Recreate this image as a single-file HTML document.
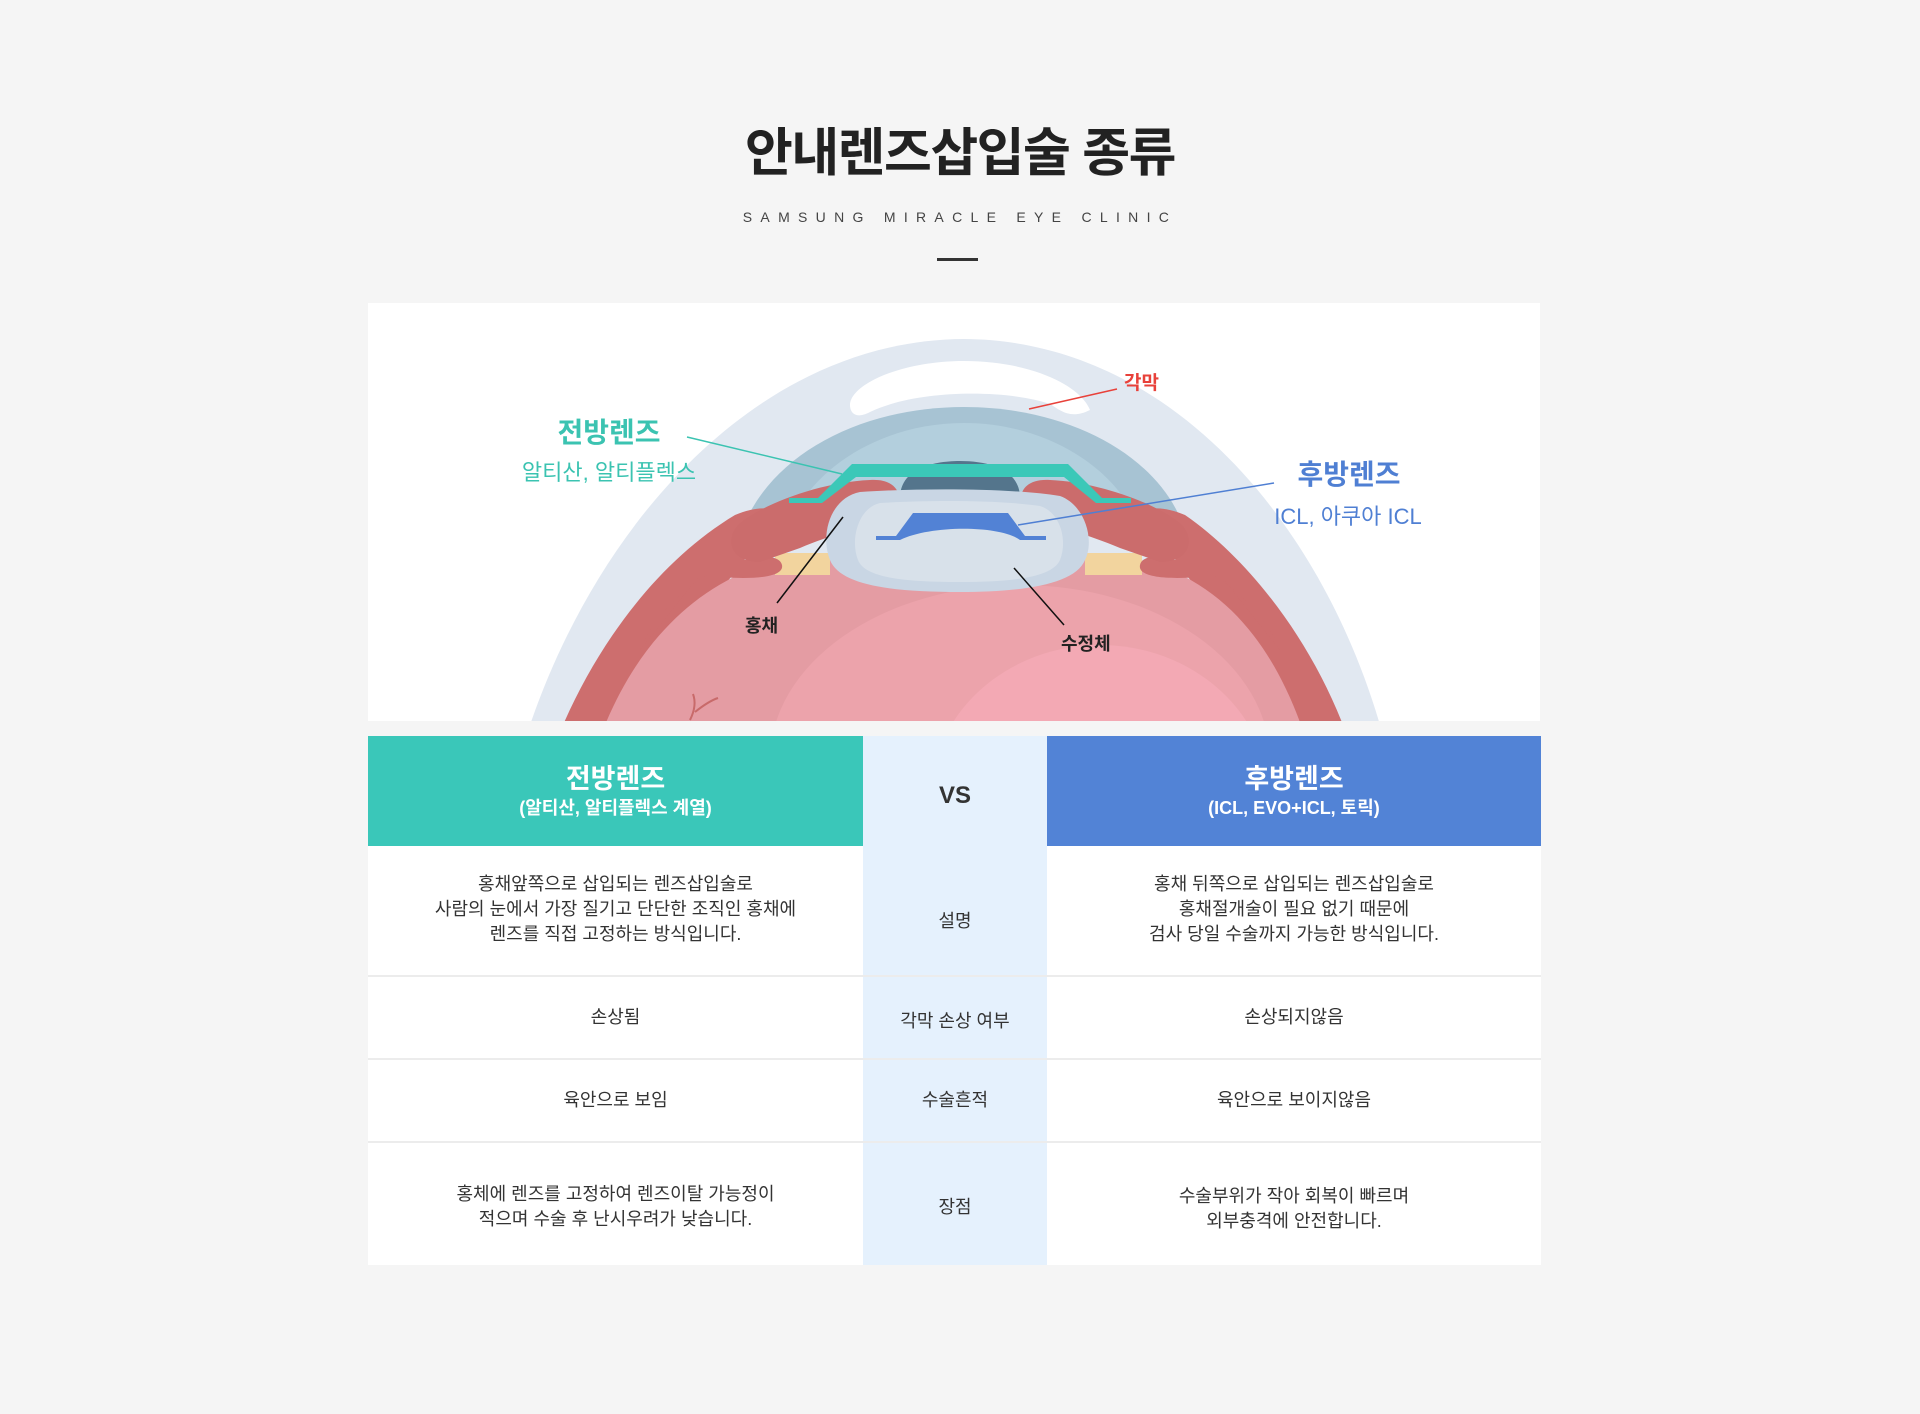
<!DOCTYPE html>
<html><head><meta charset="utf-8"><style>
*{margin:0;padding:0;box-sizing:border-box}
body{width:1920px;height:1414px;background:#f5f5f5;font-family:"Liberation Sans","Noto Sans CJK KR",sans-serif;position:relative;overflow:hidden;color:#333}
.abs{position:absolute}
h1{position:absolute;left:0;width:1920px;top:119px;text-align:center;font-size:52px;font-weight:bold;color:#222;letter-spacing:-1.5px;line-height:70px}
.sub{position:absolute;left:0;width:1920px;top:208px;text-align:center;font-size:14px;letter-spacing:8.3px;color:#444;line-height:18px}
.dash{position:absolute;left:937px;top:258px;width:41px;height:3px;background:#333}
.panel{position:absolute;left:368px;top:303px;width:1172px;height:418px;background:#fff;overflow:hidden}
table{position:absolute;left:368px;top:736px;width:1173px;border-collapse:collapse;table-layout:fixed}
td{text-align:center;vertical-align:middle;font-size:18px;line-height:25px;color:#333;background:#fff;border-bottom:2px solid #ececec}
td.m{background:#e5f1fd}
tr.h td{height:110px;color:#fff;border-bottom:none}
.t1{font-size:27px;font-weight:bold;line-height:34px}
.t2{font-size:18px;font-weight:bold;line-height:24px}
</style></head><body>
<h1>안내렌즈삽입술 종류</h1>
<div class="sub">SAMSUNG MIRACLE EYE CLINIC</div>
<div class="dash"></div>
<div class="panel">
<svg width="1172" height="418" viewBox="368 303 1172 418" xmlns="http://www.w3.org/2000/svg">
<!-- sclera -->
<path d="M530 725 C600 520 760 340 964 339 C1168 340 1320 520 1380 725 Z" fill="#e1e8f1"/>
<path d="M850 405 C850 385 900 361 964 361 C1030 361 1080 385 1090 410 C1070 420 1060 410 1050 404 C1010 390 920 388 870 412 C855 420 850 412 850 405 Z" fill="#fff"/>
<!-- cornea -->
<path d="M742 530 C770 455 860 407 964 407 C1068 407 1160 455 1185 530 Z" fill="#a7c3d3"/>
<path d="M790 525 C810 470 880 423 964 423 C1048 423 1118 470 1138 525 Z" fill="#b3cfdd"/>
<!-- red outer band -->
<path d="M563 725 C600 640 660 560 735 515 C760 505 780 505 778 525 C760 540 730 545 745 560 L610 725 Z" fill="#cd6e6e"/>
<path d="M1343 725 C1310 640 1250 560 1185 515 C1160 505 1140 505 1142 525 C1160 540 1190 545 1175 560 L1301 725 Z" fill="#cd6e6e"/>
<!-- inner pinks -->
<path d="M605 725 C640 640 700 580 780 560 L1140 560 C1220 580 1270 640 1301 725 Z" fill="#e49ca3"/>
<ellipse cx="1020" cy="760" rx="250" ry="175" fill="#eca3ab"/>
<ellipse cx="1100" cy="800" rx="170" ry="155" fill="#f3a9b4"/>
<!-- yellow -->
<path d="M775 553 L830 553 L830 575 L775 575 Z" fill="#f2d49e"/>
<path d="M1085 553 L1142 553 L1142 575 L1085 575 Z" fill="#f2d49e"/>
<!-- ciliary knobs -->
<path d="M745 560 C720 560 660 600 640 650 L700 575 C740 580 785 580 782 565 C780 555 760 555 745 560Z" fill="#cd6e6e"/>
<path d="M1175 560 C1200 560 1260 600 1280 650 L1220 575 C1180 580 1137 580 1140 565 C1142 555 1160 555 1175 560Z" fill="#cd6e6e"/>
<!-- iris -->
<path d="M738 525 C760 505 820 482 870 480 C900 478 905 500 892 512 C870 525 830 535 800 548 L760 562 C730 562 725 540 738 525Z" fill="#cb6c6c"/>
<path d="M1182 525 C1160 505 1100 482 1050 480 C1020 478 1015 500 1028 512 C1050 525 1090 535 1120 548 L1160 562 C1190 562 1195 540 1182 525Z" fill="#cb6c6c"/>
<!-- pupil -->
<path d="M900 498 C900 470 930 461 960 461 C990 461 1020 470 1020 498 Z" fill="#54758c"/>
<!-- crystalline lens -->
<path d="M860 492 C920 488 1010 488 1060 496 C1085 505 1095 540 1085 560 C1075 585 1020 592 960 592 C890 592 840 585 830 560 C820 535 830 498 860 492Z" fill="#c9d6e4"/>
<path d="M880 503 C930 500 1000 500 1040 506 C1060 512 1068 540 1060 560 C1052 578 1010 582 960 582 C905 582 865 578 858 560 C850 540 858 508 880 503Z" fill="#d8e1ea"/>
<!-- ICL -->
<path d="M913 513 L1008 513 L1025 536 L1046 536 L1046 540 L1020 540 C1000 525 930 525 900 540 L876 540 L876 536 L896 536 Z" fill="#5282d5"/>
<!-- ACL green -->
<path d="M852 464 L1068 464 L1102 498 L1131 498 L1131 503 L1096 503 L1064 477 L856 477 L822 503 L789 503 L789 498 L818 498 Z" fill="#3bc8b8"/>
<!-- vein -->
<path d="M690 720 C695 710 696 702 693 694 M695 712 C705 704 712 700 718 698" stroke="#c86a6a" stroke-width="2" fill="none"/>
<!-- leader lines -->
<line x1="1029" y1="409" x2="1117" y2="389" stroke="#e8413a" stroke-width="1.5"/>
<line x1="687" y1="437" x2="842" y2="474" stroke="#3bc3b1" stroke-width="1.5"/>
<line x1="1274" y1="483" x2="1018" y2="525" stroke="#4f7fd3" stroke-width="1.5"/>
<line x1="777" y1="603" x2="843" y2="517" stroke="#111" stroke-width="1.5"/>
<line x1="1064" y1="625" x2="1014" y2="568" stroke="#111" stroke-width="1.5"/>
</svg>
</div>
<div class="abs" style="left:1124px;top:368px;font-size:19px;font-weight:bold;color:#e8413a">각막</div>
<div class="abs" style="left:459px;top:411px;width:300px;text-align:center;font-size:28px;font-weight:bold;color:#3bc3b1">전방렌즈</div>
<div class="abs" style="left:459px;top:455px;width:300px;text-align:center;font-size:22px;color:#3bc3b1">알티산, 알티플렉스</div>
<div class="abs" style="left:1199px;top:453px;width:300px;text-align:center;font-size:28px;font-weight:bold;color:#4f7fd3">후방렌즈</div>
<div class="abs" style="left:1198px;top:499px;width:300px;text-align:center;font-size:22px;color:#4f7fd3">ICL, 아쿠아 ICL</div>
<div class="abs" style="left:745px;top:612px;font-size:18px;font-weight:bold;color:#222">홍채</div>
<div class="abs" style="left:1061px;top:630px;font-size:18px;font-weight:bold;color:#222">수정체</div>
<table>
<colgroup><col style="width:495px"><col style="width:184px"><col style="width:494px"></colgroup>
<tr class="h"><td style="background:#3ac7b9"><div class="t1">전방렌즈</div><div class="t2">(알티산, 알티플렉스 계열)</div></td><td class="m" style="color:#333;font-size:24px;font-weight:bold;padding-top:8px">VS</td><td style="background:#5283d6"><div class="t1">후방렌즈</div><div class="t2">(ICL, EVO+ICL, 토릭)</div></td></tr>
<tr><td style="height:130px;padding-bottom:2px">홍채앞쪽으로 삽입되는 렌즈삽입술로<br>사람의 눈에서 가장 질기고 단단한 조직인 홍채에<br>렌즈를 직접 고정하는 방식입니다.</td><td class="m" style="padding-top:22px">설명</td><td style="padding-bottom:2px">홍채 뒤쪽으로 삽입되는 렌즈삽입술로<br>홍채절개술이 필요 없기 때문에<br>검사 당일 수술까지 가능한 방식입니다.</td></tr>
<tr><td style="height:83px">손상됨</td><td class="m" style="padding-top:8px">각막 손상 여부</td><td>손상되지않음</td></tr>
<tr><td style="height:83px">육안으로 보임</td><td class="m">수술흔적</td><td>육안으로 보이지않음</td></tr>
<tr><td style="height:123px;border-bottom:none;padding-top:6px">홍체에 렌즈를 고정하여 렌즈이탈 가능정이<br>적으며 수술 후 난시우려가 낮습니다.</td><td class="m" style="border-bottom:none;padding-top:6px">장점</td><td style="border-bottom:none;padding-top:10px">수술부위가 작아 회복이 빠르며<br>외부충격에 안전합니다.</td></tr>
</table>
</body></html>
